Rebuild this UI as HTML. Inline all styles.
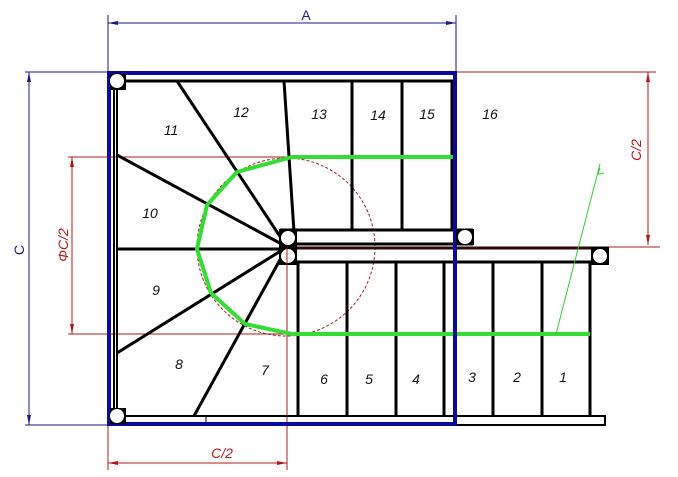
<!DOCTYPE html>
<html><head><meta charset="utf-8"><style>
html,body{margin:0;padding:0;background:#fff;}
svg{display:block}
text{font-family:"Liberation Sans",sans-serif;}
.n{font-size:14px;font-style:italic;fill:#111;text-anchor:middle}
</style></head><body>
<svg width="678" height="477" viewBox="0 0 678 477" xmlns="http://www.w3.org/2000/svg">
<!-- red construction lines -->
<g stroke="#b01818" stroke-width="1" fill="none">
<line x1="68" y1="157" x2="293" y2="157"/>
<line x1="68" y1="334" x2="293" y2="334"/>
<line x1="72" y1="157" x2="72" y2="334"/>
<line x1="287" y1="247" x2="287" y2="470"/>
<line x1="108" y1="425" x2="108" y2="470"/>
<line x1="108" y1="463" x2="287" y2="463"/>
<line x1="456" y1="72" x2="656" y2="72"/>
<line x1="290" y1="247" x2="660" y2="247"/>
<line x1="648" y1="72" x2="648" y2="245"/>
<circle cx="286" cy="247" r="89" stroke="#9a2020" stroke-dasharray="3,2"/>
</g>
<g fill="#b01818">
<polygon points="72,157 70,167 74,167"/><polygon points="72,334 70,324 74,324"/>
<polygon points="108,463 118,461 118,465"/><polygon points="287,463 277,461 277,465"/>
<polygon points="648,72 646,82 650,82"/><polygon points="648,245 646,235 650,235"/>
</g>
<!-- blue dims -->
<g stroke="#1a1a80" stroke-width="1">
<line x1="108" y1="15" x2="108" y2="72"/><line x1="456" y1="15" x2="456" y2="72"/>
<line x1="108" y1="23" x2="456" y2="23"/>
<line x1="25" y1="72" x2="108" y2="72"/><line x1="25" y1="425" x2="108" y2="425"/>
<line x1="29" y1="72" x2="29" y2="425"/>
</g>
<g fill="#1a1a80">
<polygon points="108,23 118,21 118,25"/><polygon points="456,23 446,21 446,25"/>
<polygon points="29,72 27,82 31,82"/><polygon points="29,425 27,415 31,415"/>
</g>
<text x="306" y="20" font-size="14" fill="#1a1a80" text-anchor="middle">A</text>
<text transform="translate(24,250) rotate(-90)" font-size="14" fill="#1a1a80" text-anchor="middle">C</text>
<text transform="translate(68,245) rotate(-90)" font-size="14" fill="#b01818" font-style="italic" text-anchor="middle">ΦC/2</text>
<text transform="translate(641,150) rotate(-90)" font-size="14" fill="#b01818" font-style="italic" text-anchor="middle">C/2</text>
<text x="222" y="458" font-size="14" fill="#b01818" font-style="italic" text-anchor="middle">C/2</text>
<!-- black structure -->
<g stroke="#000" fill="none">
<line x1="113" y1="81" x2="456" y2="81" stroke-width="3"/>
<line x1="114" y1="90" x2="114" y2="418" stroke-width="2"/>
<line x1="117" y1="90" x2="117" y2="416" stroke-width="2"/>
<rect x="117" y="416" width="488" height="9" stroke-width="2"/>
<line x1="206" y1="416" x2="206" y2="425" stroke-width="1"/>
<g stroke-width="3">
<line x1="352" y1="81" x2="352" y2="230"/>
<line x1="402" y1="81" x2="402" y2="230"/>
<line x1="452" y1="81" x2="452" y2="230"/>
<line x1="284" y1="81" x2="294" y2="232"/>
<line x1="280" y1="230" x2="473" y2="230"/>
<line x1="280" y1="244" x2="473" y2="244"/>
<line x1="290" y1="262" x2="608" y2="262"/>
<line x1="298" y1="262" x2="298" y2="416"/>
<line x1="347" y1="262" x2="347" y2="416"/>
<line x1="396" y1="262" x2="396" y2="416"/>
<line x1="444" y1="262" x2="444" y2="416"/>
<line x1="493" y1="262" x2="493" y2="416"/>
<line x1="542" y1="262" x2="542" y2="416"/>
<line x1="590" y1="262" x2="590" y2="416"/>
<line x1="117" y1="249" x2="287" y2="249"/>
<line x1="287" y1="247" x2="177" y2="81"/>
<line x1="287" y1="247" x2="117" y2="155"/>
<line x1="287" y1="247" x2="117" y2="353"/>
<line x1="287" y1="247" x2="194" y2="416"/>
</g>
<line x1="290" y1="248" x2="608" y2="248" stroke="#2a0808" stroke-width="3"/>
</g>
<!-- green path -->
<polyline points="455,157 292,157 237,172 207,205 197,249 211,293 245,324 292,334 590,334" fill="none" stroke="#33dd33" stroke-width="4" stroke-linejoin="round"/>
<line x1="556" y1="334" x2="600" y2="164" stroke="#33cc33" stroke-width="1"/>
<polyline points="600,168 598,174 604,173" fill="none" stroke="#33cc33" stroke-width="1"/>
<!-- blue frame -->
<rect x="109" y="73" width="346" height="351" fill="none" stroke="#0a0aa0" stroke-width="4"/>
<!-- posts -->
<g fill="#000">
<rect x="110" y="74" width="16" height="16"/>
<rect x="110" y="408" width="16" height="16"/>
<rect x="279" y="229" width="18" height="36"/>
<rect x="456" y="229" width="18" height="16"/>
<rect x="591" y="247" width="18" height="18"/>
</g>
<g fill="#fff" stroke="#000" stroke-width="1">
<circle cx="117" cy="81" r="7.5"/>
<circle cx="117" cy="416" r="7.5"/>
<circle cx="288" cy="238" r="7.5"/>
<circle cx="288" cy="256" r="7.5"/>
<circle cx="465" cy="237" r="7.5"/>
<circle cx="600" cy="256" r="7.5"/>
</g>
<line x1="287" y1="247" x2="287" y2="265" stroke="#b01818" stroke-width="1"/>
<!-- numbers -->
<text class="n" x="171" y="135">11</text>
<text class="n" x="241" y="117">12</text>
<text class="n" x="319" y="119">13</text>
<text class="n" x="378" y="120">14</text>
<text class="n" x="427" y="119">15</text>
<text class="n" x="490" y="119">16</text>
<text class="n" x="150" y="218">10</text>
<text class="n" x="156" y="295">9</text>
<text class="n" x="179" y="369">8</text>
<text class="n" x="265" y="375">7</text>
<text class="n" x="324" y="384">6</text>
<text class="n" x="369" y="384">5</text>
<text class="n" x="416" y="384">4</text>
<text class="n" x="472" y="382">3</text>
<text class="n" x="517" y="382">2</text>
<text class="n" x="563" y="382">1</text>
</svg>
</body></html>
